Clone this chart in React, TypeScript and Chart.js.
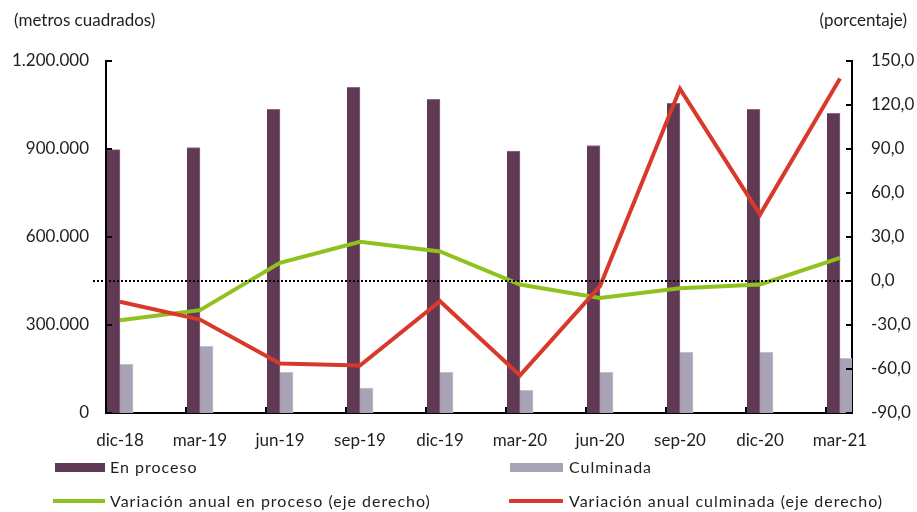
import React, { useEffect, useRef } from "react";
import { Chart, registerables } from "chart.js";

Chart.register(...registerables);

const categories = ["dic-18", "mar-19", "jun-19", "sep-19", "dic-19", "mar-20", "jun-20", "sep-20", "dic-20", "mar-21"];
const enProceso = [898000, 905000, 1035000, 1110000, 1069000, 893000, 912000, 1056000, 1035000, 1022000];
const culminada = [166000, 227000, 139000, 85000, 139000, 77000, 139000, 207000, 207000, 186000];
const varProceso = [-26.7, -19.9, 12.4, 26.7, 20.1, -2.4, -11.5, -4.9, -2.4, 15.8];
const varCulminada = [-14.2, -26.3, -56.2, -57.6, -13.8, -64.4, -3.5, 131, 45.3, 138];
const leftTicks = [0, 300000, 600000, 900000, 1200000];
const rightTicks = [-90, -60, -30, 0, 30, 60, 90, 120, 150];

const FONT = "Lato";
const TEXT = "#1e1e1e";
const C_PROC = "#603a55";
const C_CULM = "#a8a3b7";
const C_GREEN = "#8fc21f";
const C_RED = "#d9392a";

const X_MIN = -0.175;
const X_MAX = 9.15;

const fmtThousands = (v: number) => String(Math.round(v)).replace(/\B(?=(\d{3})+(?!\d))/g, ".");
const fmtPct = (v: number) => v.toFixed(1).replace(".", ",");

const decorPlugin = {
  id: "decor",
  afterDatasetsDraw(chart: any) {
    const { ctx, chartArea, scales } = chart;
    ctx.save();
    const y0 = scales.y1.getPixelForValue(0);
    ctx.strokeStyle = "#000";
    ctx.lineWidth = 2;
    ctx.setLineDash([2, 2]);
    ctx.beginPath();
    ctx.moveTo(chartArea.left - 13, y0);
    ctx.lineTo(chartArea.right, y0);
    ctx.stroke();
    ctx.setLineDash([]);
    ctx.lineWidth = 2;
    ctx.beginPath();
    leftTicks.forEach((t) => {
      const py = scales.y.getPixelForValue(t);
      ctx.moveTo(chartArea.left, py);
      ctx.lineTo(chartArea.left + 6, py);
    });
    rightTicks.forEach((t) => {
      const py = scales.y1.getPixelForValue(t);
      ctx.moveTo(chartArea.right - 6, py);
      ctx.lineTo(chartArea.right, py);
    });
    categories.forEach((_, i) => {
      const px = scales.x.getPixelForValue(X_MIN + i);
      ctx.moveTo(px, chartArea.bottom);
      ctx.lineTo(px, chartArea.bottom - 6);
    });
    ctx.stroke();
    ctx.restore();
  },
};

export default function App() {
  const canvasRef = useRef<HTMLCanvasElement | null>(null);

  useEffect(() => {
    document.body.style.margin = "0";
    const canvas = canvasRef.current;
    if (!canvas) return;
    const chart = new Chart(canvas, {
      type: "bar",
      data: {
        datasets: [
          {
            type: "line",
            label: "Variación anual culminada (eje derecho)",
            data: varCulminada.map((v, i) => ({ x: i, y: v })),
            borderColor: C_RED,
            borderWidth: 4,
            pointRadius: 0,
            tension: 0,
            yAxisID: "y1",
            order: 0,
          },
          {
            type: "line",
            label: "Variación anual en proceso (eje derecho)",
            data: varProceso.map((v, i) => ({ x: i, y: v })),
            borderColor: C_GREEN,
            borderWidth: 4,
            pointRadius: 0,
            tension: 0,
            yAxisID: "y1",
            order: 1,
          },
          {
            type: "bar",
            label: "En proceso",
            data: enProceso.map((v, i) => ({ x: i, y: v })),
            backgroundColor: C_PROC,
            borderColor: "#8c6c82",
            borderWidth: { top: 1, left: 0, right: 1, bottom: 0 },
            barThickness: 13,
            yAxisID: "y",
            order: 2,
          },
          {
            type: "bar",
            label: "Culminada",
            data: culminada.map((v, i) => ({ x: i, y: v })),
            backgroundColor: C_CULM,
            borderColor: "#c2bfcc",
            borderWidth: { top: 1, left: 0, right: 1, bottom: 0 },
            barThickness: 13,
            yAxisID: "y",
            order: 2,
          },
        ],
      } as any,
      options: {
        animation: false,
        responsive: false,
        maintainAspectRatio: false,
        layout: { padding: { top: 61, left: 0, right: 0, bottom: 0 } },
        plugins: {
          legend: { display: false },
          tooltip: { enabled: false },
        },
        scales: {
          x: {
            type: "linear",
            min: X_MIN,
            max: X_MAX,
            offset: false,
            grid: { display: false, drawTicks: false },
            border: { display: true, color: "#000", width: 2 },
            afterBuildTicks: (scale: any) => {
              scale.ticks = categories.map((_, i) => ({ value: i }));
            },
            afterFit: (scale: any) => {
              scale.height = 99;
            },
            ticks: {
              autoSkip: false,
              maxRotation: 0,
              padding: 17,
              color: TEXT,
              font: { family: FONT, size: 17 },
              callback: (v: any) => categories[Math.round(Number(v))] ?? "",
            },
          },
          y: {
            type: "linear",
            position: "left",
            min: 0,
            max: 1200000,
            grid: { display: false, drawTicks: false },
            border: { display: true, color: "#000", width: 2 },
            afterBuildTicks: (scale: any) => {
              scale.ticks = leftTicks.map((v) => ({ value: v }));
            },
            afterFit: (scale: any) => {
              scale.width = 106;
            },
            ticks: {
              padding: 17,
              color: TEXT,
              font: { family: FONT, size: 17 },
              callback: (v: any) => fmtThousands(Number(v)),
            },
          },
          y1: {
            type: "linear",
            position: "right",
            min: -90,
            max: 150,
            grid: { display: false, drawTicks: false },
            border: { display: true, color: "#000", width: 2 },
            afterBuildTicks: (scale: any) => {
              scale.ticks = rightTicks.map((v) => ({ value: v }));
            },
            afterFit: (scale: any) => {
              scale.width = 65;
            },
            ticks: {
              padding: 19,
              color: TEXT,
              font: { family: FONT, size: 17 },
              callback: (v: any) => fmtPct(Number(v)),
            },
          },
        },
      } as any,
      plugins: [decorPlugin],
    });
    return () => chart.destroy();
  }, []);

  const textStyle: React.CSSProperties = {
    position: "absolute",
    fontFamily: FONT,
    fontSize: 16,
    color: TEXT,
    lineHeight: "20px",
    whiteSpace: "nowrap",
  };
  const legendText: React.CSSProperties = { ...textStyle, letterSpacing: "1px" };

  return (
    <div style={{ position: "relative", width: 917, height: 512, background: "#fff", overflow: "hidden" }}>
      <canvas ref={canvasRef} width={917} height={512} style={{ position: "absolute", left: 0, top: 0, width: 917, height: 512 }} />
      <div style={{ ...textStyle, left: 14, top: 10, fontSize: 17 }}>(metros cuadrados)</div>
      <div style={{ ...textStyle, right: 10, top: 10, fontSize: 17 }}>(porcentaje)</div>

      <div style={{ position: "absolute", left: 55, top: 463, width: 50, height: 9, background: C_PROC }} />
      <div style={{ ...legendText, left: 110, top: 457 }}>En proceso</div>
      <div style={{ position: "absolute", left: 510, top: 463, width: 53, height: 9, background: C_CULM }} />
      <div style={{ ...legendText, left: 569, top: 457 }}>Culminada</div>

      <div style={{ position: "absolute", left: 53, top: 499, width: 52, height: 4, background: C_GREEN }} />
      <div style={{ ...legendText, left: 110, top: 491 }}>Variación anual en proceso (eje derecho)</div>
      <div style={{ position: "absolute", left: 509, top: 499, width: 54, height: 4, background: C_RED }} />
      <div style={{ ...legendText, left: 569, top: 491 }}>Variación anual culminada (eje derecho)</div>
    </div>
  );
}
